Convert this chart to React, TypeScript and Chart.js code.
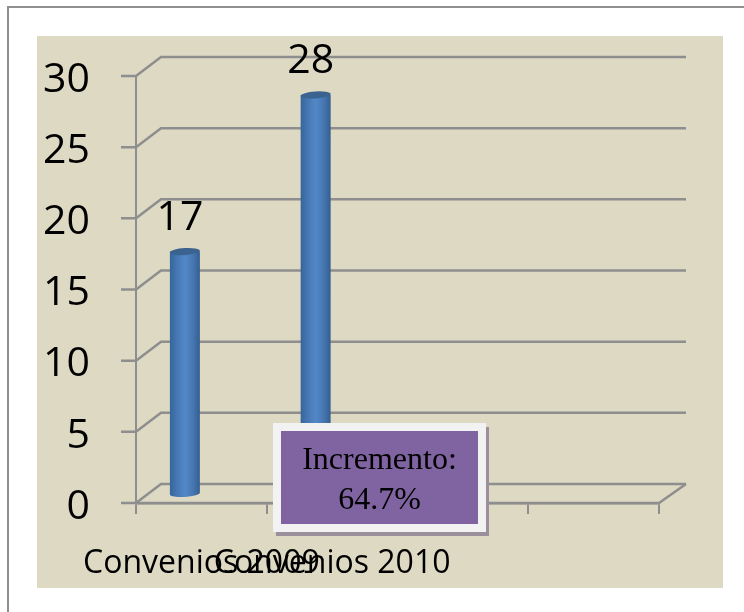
import React, { useEffect, useRef } from "react";
import { Chart, registerables } from "chart.js";

Chart.register(...registerables);

const categories = ["Convenios 2009", "Convenios 2010", "", ""];
const values = [17, 28, null, null];
const yTicks = [0, 5, 10, 15, 20, 25, 30];
const noteLines = ["Incremento:", "64.7%"];

const FONT = '"Open Sans", sans-serif';
const GRID = "#8e8e8e";
const DX = 25;
const DY = 19;

const wallPlugin = {
  id: "wall",
  beforeDatasetsDraw(chart: any) {
    const { ctx, scales } = chart;
    const y = scales.y;
    const left = scales.x.left;
    const right = scales.x.right;
    ctx.save();
    ctx.strokeStyle = GRID;
    ctx.lineWidth = 2.5;
    yTicks.forEach((t) => {
      const py = y.getPixelForValue(t);
      ctx.beginPath();
      ctx.moveTo(left - 15, py);
      ctx.lineTo(left, py);
      ctx.lineTo(left + DX, py - DY);
      ctx.lineTo(right + DX + 2, py - DY);
      ctx.stroke();
    });
    const p0 = y.getPixelForValue(0);
    ctx.beginPath();
    ctx.moveTo(left, p0);
    ctx.lineTo(right, p0);
    ctx.lineTo(right + DX + 2, p0 - DY);
    ctx.stroke();
    ctx.restore();
  },
};

const cylinderPlugin = {
  id: "cylinder",
  afterDatasetsDraw(chart: any) {
    const { ctx } = chart;
    const meta = chart.getDatasetMeta(0);
    meta.data.forEach((el: any, i: number) => {
      const v = values[i];
      if (v == null) return;
      const { x, y, base, width } = el.getProps(["x", "y", "base", "width"], true);
      const l = x - width / 2;
      const r = x + width / 2;
      const ry = 3.5;
      const g = ctx.createLinearGradient(l, 0, r, 0);
      g.addColorStop(0, "#35659b");
      g.addColorStop(0.22, "#4676b0");
      g.addColorStop(0.5, "#5288c8");
      g.addColorStop(0.78, "#4676b0");
      g.addColorStop(1, "#335e90");
      ctx.save();
      ctx.fillStyle = g;
      ctx.beginPath();
      ctx.moveTo(l, y);
      ctx.lineTo(l, base);
      ctx.ellipse(x, base, width / 2, ry, -0.06, Math.PI, 0, true);
      ctx.lineTo(r, y);
      ctx.closePath();
      ctx.fill();
      ctx.fillStyle = "#3a6390";
      ctx.beginPath();
      ctx.ellipse(x, y, width / 2, ry, -0.06, 0, Math.PI * 2);
      ctx.fill();
      ctx.fillStyle = "#000";
      ctx.font = `41px ${FONT}`;
      ctx.textAlign = "center";
      ctx.textBaseline = "alphabetic";
      ctx.fillText(String(v), x - 5, y - 22);
      ctx.restore();
    });
  },
};

export default function App() {
  const ref = useRef<HTMLCanvasElement>(null);
  useEffect(() => {
    const chart = new Chart(ref.current as HTMLCanvasElement, {
      type: "bar",
      data: {
        labels: categories,
        datasets: [
          {
            data: values,
            yAxisID: "yBars",
            backgroundColor: "transparent",
            categoryPercentage: 0.504,
            barPercentage: 0.91,
          },
          { data: [null, null, null, null], yAxisID: "yBars", backgroundColor: "transparent", categoryPercentage: 0.504, barPercentage: 0.91 },
        ],
      },
      plugins: [wallPlugin, cylinderPlugin],
      options: {
        responsive: false,
        animation: false,
        layout: { padding: { left: 0, top: 76, right: 85, bottom: 0 } },
        plugins: { legend: { display: false }, tooltip: { enabled: false }, title: { display: false } },
        scales: {
          x: {
            position: "bottom",
            afterFit: (s: any) => { s.height = 109; },
            grid: { display: true, drawOnChartArea: false, drawTicks: true, tickLength: 11, color: GRID, lineWidth: 2 },
            border: { display: true, color: GRID, width: 2.5 },
            ticks: { font: { family: FONT, size: 32 }, color: "#000", autoSkip: false, maxRotation: 0, minRotation: 0, padding: 31 },
          },
          y: {
            position: "left",
            min: 0,
            max: 30,
            afterFit: (s: any) => { s.width = 136; },
            grid: { display: false },
            border: { display: true, color: GRID, width: 2 },
            afterBuildTicks: (s: any) => { s.ticks = yTicks.map((value) => ({ value })); },
            ticks: { font: { family: FONT, size: 41 }, color: "#000", padding: 38, labelOffset: 4 },
          },
          yBars: { display: false, min: -0.667, max: 29.333 },
        },
      },
    } as any);
    return () => chart.destroy();
  }, []);
  return (
    <div style={{ position: "absolute", left: 0, top: 0, width: 744, height: 612, background: "#fff", overflow: "hidden" }}>
      <div style={{ position: "absolute", left: 7, top: 6, width: 760, height: 640, border: "2px solid #8f8f8f", boxSizing: "border-box" }} />
      <div style={{ position: "absolute", left: 37, top: 36, width: 686, height: 552, background: "#ddd9c3" }} />
      <canvas ref={ref} width={744} height={612} style={{ position: "absolute", left: 0, top: 0, width: 744, height: 612 }} />
      <div
        style={{
          position: "absolute",
          left: 273,
          top: 423,
          width: 213,
          height: 109,
          boxSizing: "border-box",
          border: "8px solid #f2f2f2",
          background: "#8064a2",
          boxShadow: "3px 4px 0 #9a8f9a",
          fontFamily: '"Liberation Serif", serif',
          fontSize: 32,
          lineHeight: "40px",
          color: "#000",
          textAlign: "center",
          paddingTop: 7,
        }}
      >
        {noteLines.map((t) => (
          <div key={t}>{t}</div>
        ))}
      </div>
    </div>
  );
}
